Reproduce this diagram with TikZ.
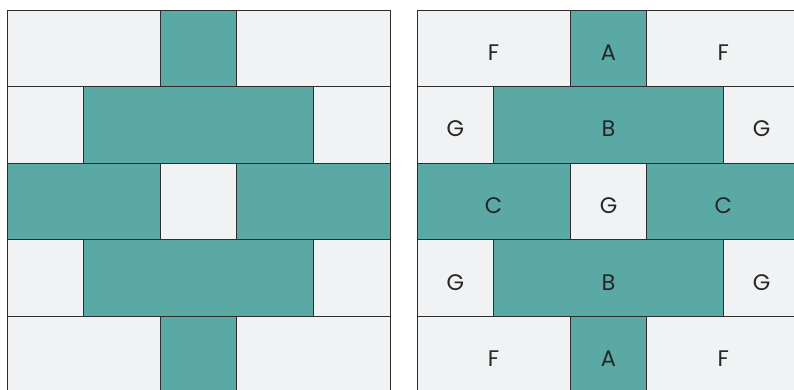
\documentclass[tikz,border=0pt]{standalone}
\usepackage{fontspec}
\setmainfont{Poppins}
\usepackage{tikz}
\usetikzlibrary{positioning}
\definecolor{quiltteal}{RGB}{90,169,164}
\definecolor{quiltgray}{RGB}{241,242,244}
\definecolor{seamgray}{RGB}{45,45,45}
\tikzset{
  patch/.style={
    draw=seamgray,line width=0.9pt,inner sep=0pt,outer sep=0pt,
    minimum height=76.6pt,text height=24pt,text depth=0pt,
    font=\fontsize{22.5}{22.5}\selectfont,text=black!85
  },
  plainpatch/.style={patch,fill=quiltgray},
  tealpatch/.style={patch,fill=quiltteal},
  onecell/.style={minimum width=76.6pt},
  twocell/.style={minimum width=153.2pt},
  threecell/.style={minimum width=229.8pt}
}

\begin{document}
\begin{tikzpicture}[x=1pt,y=-1pt]
  \useasboundingbox (0,0) rectangle (794,390);
  % left block, no letters
  \node[plainpatch,twocell,anchor=north west] (la1) at (7,10) {};
  \node[tealpatch,onecell,right=0pt of la1] (lb1) {};
  \node[plainpatch,twocell,right=0pt of lb1] (lc1) {};
  \node[plainpatch,onecell,anchor=north west] (la2) at (7,86.6) {};
  \node[tealpatch,threecell,right=0pt of la2] (lb2) {};
  \node[plainpatch,onecell,right=0pt of lb2] (lc2) {};
  \node[tealpatch,twocell,anchor=north west] (la3) at (7,163.2) {};
  \node[plainpatch,onecell,right=0pt of la3] (lb3) {};
  \node[tealpatch,twocell,right=0pt of lb3] (lc3) {};
  \node[plainpatch,onecell,anchor=north west] (la4) at (7,239.8) {};
  \node[tealpatch,threecell,right=0pt of la4] (lb4) {};
  \node[plainpatch,onecell,right=0pt of lb4] (lc4) {};
  \node[plainpatch,twocell,anchor=north west] (la5) at (7,316.4) {};
  \node[tealpatch,onecell,right=0pt of la5] (lb5) {};
  \node[plainpatch,twocell,right=0pt of lb5] (lc5) {};
  % right block, same layout with letters
  \node[plainpatch,twocell,anchor=north west] (ra1) at (417,10) {F};
  \node[tealpatch,onecell,right=0pt of ra1] (rb1) {A};
  \node[plainpatch,twocell,right=0pt of rb1] (rc1) {F};
  \node[plainpatch,onecell,anchor=north west] (ra2) at (417,86.6) {G};
  \node[tealpatch,threecell,right=0pt of ra2] (rb2) {B};
  \node[plainpatch,onecell,right=0pt of rb2] (rc2) {G};
  \node[tealpatch,twocell,anchor=north west] (ra3) at (417,163.2) {C};
  \node[plainpatch,onecell,right=0pt of ra3] (rb3) {G};
  \node[tealpatch,twocell,right=0pt of rb3] (rc3) {C};
  \node[plainpatch,onecell,anchor=north west] (ra4) at (417,239.8) {G};
  \node[tealpatch,threecell,right=0pt of ra4] (rb4) {B};
  \node[plainpatch,onecell,right=0pt of rb4] (rc4) {G};
  \node[plainpatch,twocell,anchor=north west] (ra5) at (417,316.4) {F};
  \node[tealpatch,onecell,right=0pt of ra5] (rb5) {A};
  \node[plainpatch,twocell,right=0pt of rb5] (rc5) {F};
\end{tikzpicture}
\end{document}
